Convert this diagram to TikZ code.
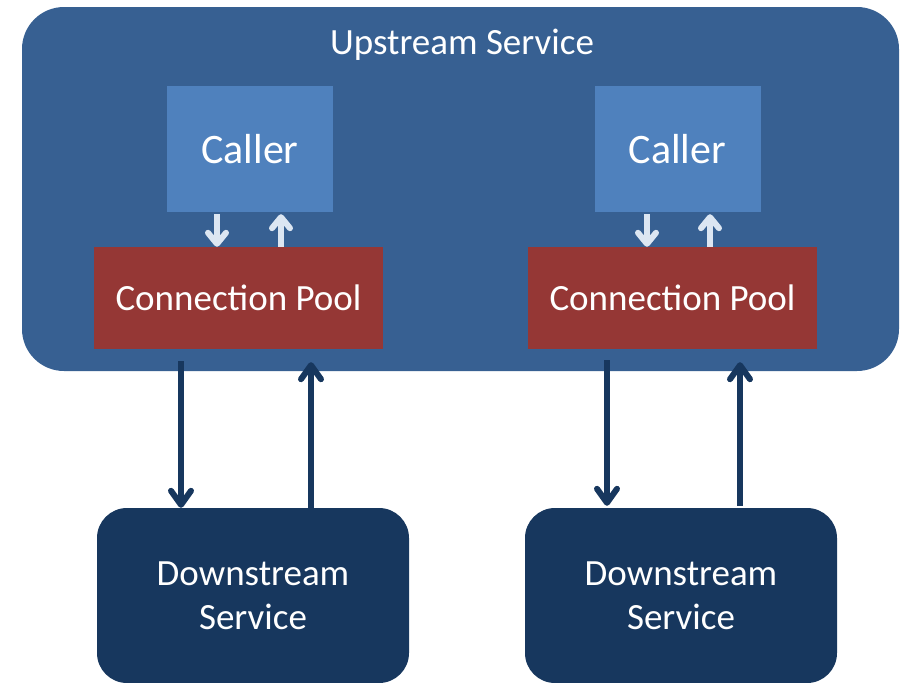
\documentclass[tikz,border=0pt]{standalone}
\usepackage{fontspec}
\setmainfont{Carlito}
\usetikzlibrary{arrows.meta}
\definecolor{upblue}{RGB}{55,96,146}
\definecolor{callerblue}{RGB}{79,129,189}
\definecolor{poolred}{RGB}{149,55,53}
\definecolor{downblue}{RGB}{23,55,94}
\definecolor{lightarrow}{RGB}{220,230,242}
\tikzset{
  upbox/.style={fill=upblue, draw=none, rounded corners=42pt, minimum width=877pt, minimum height=364pt, inner sep=0pt},
  callerbox/.style={fill=callerblue, draw=none, minimum width=166pt, minimum height=126pt, inner sep=0pt, text=white, font=\fontsize{42}{46}\selectfont},
  poolbox/.style={fill=poolred, draw=none, minimum width=289pt, minimum height=102pt, inner sep=0pt, text=white, font=\fontsize{37}{40}\selectfont},
  downbox/.style={fill=downblue, draw=none, rounded corners=30pt, minimum width=312pt, minimum height=175pt, inner sep=0pt, text=white, align=center, font=\fontsize{37}{44}\selectfont},
  smallarr/.style={draw=lightarrow, line width=6pt, -{Straight Barb[length=11pt,width=18pt,line cap=round,line join=round]}},
  bigarr/.style={draw=downblue, line width=6pt, -{Straight Barb[length=14pt,width=20pt,line cap=round,line join=round]}},
  titlelbl/.style={text=white, font=\fontsize{37}{40}\selectfont, inner sep=0pt}
}
\begin{document}
\begin{tikzpicture}[x=1pt,y=-1pt]
\useasboundingbox (0,0) rectangle (900,683);
\node[upbox] (up) at (460.5,189) {};
\node[titlelbl] (uptitle) at (462,45) {Upstream Service};
\node[callerbox] (caller1) at (250,149) {Caller};
\node[callerbox] (caller2) at (677.5,149) {Caller};
\node[poolbox] (pool1) at (238.5,298) {Connection Pool};
\node[poolbox] (pool2) at (672.5,298) {Connection Pool};
\node[downbox] (down1) at (253,595.5) {Downstream\\Service};
\node[downbox] (down2) at (681,595.5) {Downstream\\Service};
% small arrows
\draw[smallarr] ([xshift=-33pt,yshift=-2pt]caller1.south) -- ([xshift=-21.5pt]pool1.north);
\draw[smallarr] ([xshift=42.5pt]pool1.north) -- ([xshift=31pt,yshift=-2pt]caller1.south);
\draw[smallarr] ([xshift=-30.5pt,yshift=-2pt]caller2.south) -- ([xshift=-25.5pt]pool2.north);
\draw[smallarr] ([xshift=37.5pt]pool2.north) -- ([xshift=32.5pt,yshift=-2pt]caller2.south);
% big arrows
\draw[bigarr] ([xshift=-57.5pt,yshift=-12pt]pool1.south) -- ([xshift=-72pt]down1.north);
\draw[bigarr] ([xshift=58pt]down1.north) -- ([xshift=72.5pt,yshift=-13pt]pool1.south);
\draw[bigarr] ([xshift=-65.5pt,yshift=-11pt]pool2.south) -- ([xshift=-74pt,yshift=2pt]down2.north);
\draw[bigarr] ([xshift=59pt,yshift=2pt]down2.north) -- ([xshift=67.5pt,yshift=-13pt]pool2.south);
\end{tikzpicture}
\end{document}
